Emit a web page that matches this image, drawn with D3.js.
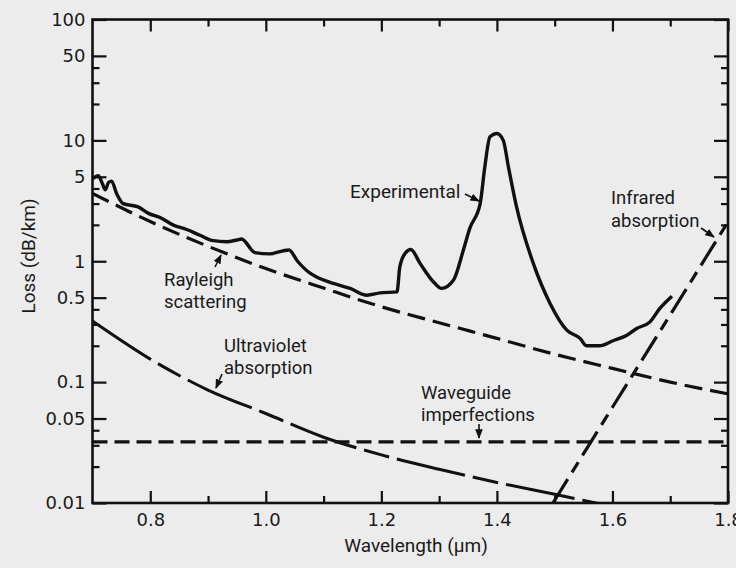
<!DOCTYPE html>
<html><head><meta charset="utf-8">
<script src="https://cdn.jsdelivr.net/npm/d3@7"></script>
<style>
body{margin:0;background:#ececec;}
svg{display:block;}
text{fill:#1a1a1a;}
.tick text{font-family:"DejaVu Sans",sans-serif;font-size:18px;}
.ann{font-family:Roboto,"Liberation Sans",sans-serif;font-size:19px;}
.ann2{font-family:Roboto,"Liberation Sans",sans-serif;font-size:18.5px;}
</style>
</head><body>
<svg id="c" width="736" height="568"></svg>
<script>
// ---- data ----
const expWavelength = [0.700,0.710,0.717,0.722,0.728,0.733,0.742,0.753,0.779,0.797,0.817,0.840,0.863,0.886,0.909,0.932,0.950,0.958,0.981,1.007,1.030,1.040,1.055,1.076,1.088,1.117,1.146,1.175,1.198,1.227,1.232,1.241,1.251,1.267,1.290,1.304,1.325,1.342,1.353,1.371,1.379,1.388,1.400,1.411,1.420,1.434,1.463,1.492,1.521,1.544,1.555,1.578,1.601,1.625,1.642,1.665,1.682,1.703];
const expLoss = [4.8,5.1,4.4,3.9,4.5,4.6,3.6,3.0,2.82,2.49,2.30,1.99,1.83,1.64,1.48,1.45,1.50,1.53,1.18,1.15,1.22,1.24,1.00,0.80,0.74,0.655,0.596,0.524,0.547,0.558,0.90,1.16,1.25,0.96,0.676,0.596,0.70,1.24,1.87,3.0,6.0,10.7,11.4,10.0,6.0,2.82,0.96,0.448,0.269,0.23,0.20,0.20,0.22,0.244,0.278,0.315,0.407,0.514];

const rayleighWavelength = [0.7,0.8,0.9,1.0,1.1,1.2,1.3,1.4,1.5,1.6,1.7,1.8];
const rayleighLoss = [3.64,2.13,1.33,0.87,0.60,0.42,0.31,0.23,0.17,0.13,0.10,0.08];

const uvWavelength = [0.7,0.8,0.9,1.0,1.1,1.2,1.3,1.4,1.5,1.58];
const uvLoss = [0.32,0.155,0.086,0.055,0.035,0.025,0.019,0.0148,0.0118,0.0098];

const waveguideWavelength = [0.7,1.8];
const waveguideLoss = [0.032,0.032];

const irWavelength = [1.497,1.6,1.7,1.8];
const irLoss = [0.01,0.062,0.36,2.12];

const xMajorTicks = [0.8,1.0,1.2,1.4,1.6,1.8];
const xTickLabels = ["0.8","1.0","1.2","1.4","1.6","1.8"];
const xMinorTicks = [0.9,1.1,1.3,1.5,1.7];
const yMajorTicks = [100,50,10,5,1,0.5,0.1,0.05,0.01];
const yTickLabels = ["100","50","10","5","1","0.5","0.1","0.05","0.01"];
const yMinorTicks = [40,30,20,4,3,2,0.4,0.3,0.2,0.04,0.03,0.02];

// ---- chart ----
const svg = d3.select("#c");
const L = 92.5, R = 728, T = 19.5, B = 503;
const x = d3.scaleLinear().domain([0.7,1.8]).range([L,R]);
const y = d3.scaleLog().domain([0.01,100]).range([B,T]);

svg.append("rect").attr("width",736).attr("height",568).attr("fill","#ececec");

function axis(gen, tr, vals, size, fmt){
  const g = svg.append("g").attr("transform",tr)
    .call(gen.tickValues(vals).tickSizeInner(-size).tickSizeOuter(0).tickPadding(7)
      .tickFormat(fmt || (()=>"")));
  g.select(".domain").remove();
  g.selectAll(".tick line").attr("stroke","#111").attr("stroke-width",2.2);
  return g;
}
axis(d3.axisLeft(y), `translate(${L},0)`, yMajorTicks, 14, (d,i)=>yTickLabels[i]);
axis(d3.axisLeft(y), `translate(${L},0)`, yMinorTicks, 7);
axis(d3.axisRight(y), `translate(${R},0)`, yMajorTicks, 14);
axis(d3.axisRight(y), `translate(${R},0)`, yMinorTicks, 7);
const bx = axis(d3.axisBottom(x), `translate(0,${B})`, xMajorTicks, 12, (d,i)=>xTickLabels[i]);
bx.selectAll(".tick text").attr("dy","0.9em");
axis(d3.axisBottom(x), `translate(0,${B})`, xMinorTicks, 7);
axis(d3.axisTop(x), `translate(0,${T})`, xMajorTicks, 12);
axis(d3.axisTop(x), `translate(0,${T})`, xMinorTicks, 7);

svg.append("rect").attr("x",L).attr("y",T).attr("width",R-L).attr("height",B-T)
  .attr("fill","none").attr("stroke","#111").attr("stroke-width",2.6);

svg.append("clipPath").attr("id","clip").append("rect")
  .attr("x",L).attr("y",T).attr("width",R-L).attr("height",B-T);

function series(ws, vs, dash, width, curve){
  const data = ws.map((w,i)=>[w,vs[i]]);
  svg.append("path").datum(data)
    .attr("clip-path","url(#clip)")
    .attr("fill","none").attr("stroke","#111")
    .attr("stroke-width",width)
    .attr("stroke-dasharray",dash)
    .attr("stroke-linejoin","round")
    .attr("d", d3.line().x(d=>x(d[0])).y(d=>y(d[1])).curve(curve||d3.curveMonotoneX));
}
series(waveguideWavelength, waveguideLoss, "15,7", 3.2, d3.curveLinear);
series(rayleighWavelength, rayleighLoss, "18,8", 3.2, d3.curveMonotoneX);
series(uvWavelength, uvLoss, "70,8,26,8", 3, d3.curveMonotoneX);
series(irWavelength, irLoss, "28,8,12,8", 3.2, d3.curveLinear);
series(expWavelength, expLoss, null, 3.4, d3.curveMonotoneX);

svg.append("defs").append("marker").attr("id","ah")
  .attr("viewBox","0 0 10 10").attr("refX",9).attr("refY",5)
  .attr("markerWidth",6).attr("markerHeight",6).attr("orient","auto")
  .append("path").attr("d","M0,1 L10,5 L0,9 Z").attr("fill","#111");

function label(lines, px, py, lh){
  lines.forEach((s,i)=>svg.append("text").attr("class", lines.length>1 ? "ann2" : "ann")
    .attr("x",px).attr("y",py + i*lh).text(s));
}
function arrow(x1,y1,x2,y2){
  svg.append("line").attr("x1",x1).attr("y1",y1).attr("x2",x2).attr("y2",y2)
    .attr("stroke","#111").attr("stroke-width",1.6).attr("marker-end","url(#ah)");
}
label(["Experimental"], 350, 198, 20);
arrow(465,194,479,201);
label(["Infrared","absorption"], 611, 204, 23);
arrow(701,228,714,237);
label(["Rayleigh","scattering"], 164, 286, 22);
arrow(215,267,221,255);
label(["Ultraviolet","absorption"], 224, 352, 22);
arrow(222,374,216,388);
label(["Waveguide","imperfections"], 421, 399, 22);
arrow(479,424,479,438);

svg.append("text").attr("class","ann").attr("text-anchor","middle")
  .attr("x",416).attr("y",552).text("Wavelength (\u00b5m)");
svg.append("text").attr("class","ann").attr("text-anchor","middle")
  .attr("transform","translate(35,256) rotate(-90)").text("Loss (dB/km)");
</script>
</body></html>
